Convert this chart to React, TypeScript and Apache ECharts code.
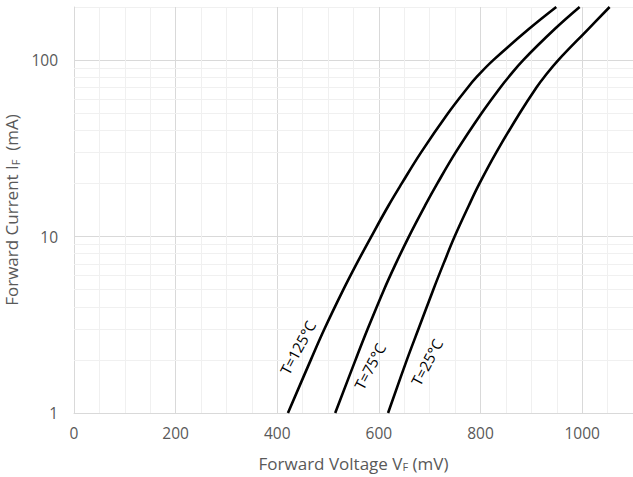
import React, { useEffect, useRef } from "react";
import * as echarts from "echarts";

// Forward current (mA) sample points shared by all curves
const currents = [1, 2, 3, 5, 7, 10, 15, 20, 30, 50, 70, 80, 100, 150, 200];
// Forward voltage (mV) at each current, per temperature
const v125 = [421, 466, 493, 530, 556, 585, 619, 645, 683, 736, 775, 792, 825, 895, 949];
const v75 = [514, 554, 578, 610, 633, 659, 691, 715, 751, 802, 839, 855, 884, 946, 995];
const v25 = [618, 655, 678, 707, 727, 749, 777, 798, 831, 877, 910, 925, 953, 1012, 1054];

const curveNames = ["T=125°C", "T=75°C", "T=25°C"];
// label anchor (mV, mA) per curve
const labelAnchors = [
  [440, 2.35],
  [582, 1.84],
  [694, 1.94],
];

// minor horizontal grid values
const minorY = [2, 3, 4, 5, 6, 7, 8, 9, 20, 30, 40, 50, 60, 70, 80, 90];

const FONT = "Open Sans";
const TEXT = "#595959";

export default function App() {
  const ref = useRef<HTMLDivElement>(null);
  useEffect(() => {
    if (!ref.current) return;
    const chart = echarts.init(ref.current, null, { renderer: "svg" });
    const volts = [v125, v75, v25];
    const series: any[] = volts.map((vs, i) => ({
      type: "line",
      name: curveNames[i],
      data: vs.map((v, j) => [v, currents[j]]),
      showSymbol: false,
      smooth: 0.4,
      z: 5,
      lineStyle: { color: "#000", width: 2.6 },
      markPoint: {
        silent: true,
        symbol: "circle",
        symbolSize: 0,
        itemStyle: { color: "transparent" },
        label: {
          show: true,
          position: "inside",
          rotate: 62,
          formatter: curveNames[i],
          color: "#000",
          fontFamily: FONT,
          fontSize: 15,
        },
        data: [{ coord: labelAnchors[i] }],
      },
    }));
    series.push({
      type: "line",
      data: [[0, 1]],
      showSymbol: false,
      lineStyle: { opacity: 0 },
      z: 1,
      silent: true,
      markLine: {
        silent: true,
        symbol: ["none", "none"],
        label: { show: false },
        lineStyle: { color: "#f0f0f0", width: 1, type: "solid" },
        data: minorY.map((v) => ({ yAxis: v })),
      },
    });
    const nameStyle = {
      color: TEXT,
      fontSize: 17,
      fontFamily: FONT,
      rich: { sub: { fontSize: 11, color: TEXT, fontFamily: FONT, padding: [7, 0, 0, 0] } },
    };
    chart.setOption({
      animation: false,
      textStyle: { fontFamily: FONT },
      grid: {
        left: 74,
        right: 0,
        top: 7,
        bottom: 64,
        containLabel: false,
        outerBoundsMode: "none",
      },
      xAxis: {
        type: "value",
        min: 0,
        max: 1100,
        interval: 50,
        name: "Forward Voltage V{sub|F} (mV)",
        nameLocation: "middle",
        nameGap: 41,
        nameTextStyle: nameStyle,
        axisLine: { show: true, lineStyle: { color: "#d9d9d9" } },
        axisTick: { show: false },
        axisLabel: {
          color: TEXT,
          fontSize: 15.5,
          fontFamily: FONT,
          margin: 12,
          formatter: (v: number) => (v % 200 === 0 ? String(v) : ""),
        },
        splitLine: {
          show: true,
          lineStyle: { color: ["#d9d9d9", "#f0f0f0", "#f0f0f0", "#f0f0f0"], width: 1 },
        },
      },
      yAxis: {
        type: "log",
        logBase: 10,
        min: 1,
        max: 200,
        name: "Forward Current I{sub|F}  (mA)",
        nameLocation: "middle",
        nameGap: 48,
        nameTextStyle: nameStyle,
        axisLine: { show: true, lineStyle: { color: "#d9d9d9" } },
        axisTick: { show: false },
        axisLabel: {
          color: TEXT,
          fontSize: 15.5,
          fontFamily: FONT,
          margin: 16,
          showMaxLabel: false,
        },
        splitLine: {
          show: true,
          lineStyle: { color: ["#d9d9d9", "#d9d9d9", "#d9d9d9", "#f0f0f0"], width: 1 },
        },
      },
      series,
    });
    return () => chart.dispose();
  }, []);
  return (
    <div
      ref={ref}
      style={{ position: "absolute", left: 0, top: 0, width: 633, height: 477, background: "#fff" }}
    />
  );
}
